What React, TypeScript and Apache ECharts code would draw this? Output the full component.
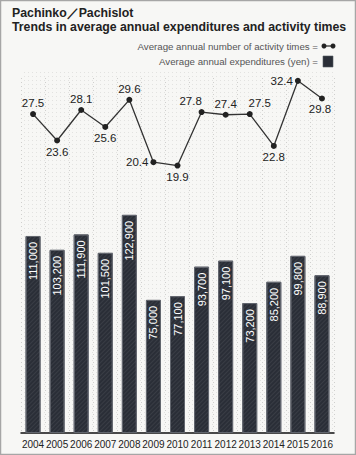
import React, { useEffect, useRef } from "react";
import * as echarts from "echarts";

const years = ["2004","2005","2006","2007","2008","2009","2010","2011","2012","2013","2014","2015","2016"];
const expenditures = [111000,103200,111900,101500,122900,75000,77100,93700,97100,73200,85200,99800,88900];
const activityTimes = [27.5,23.6,28.1,25.6,29.6,20.4,19.9,27.8,27.4,27.5,22.8,32.4,29.8];
const labelPlacement = ["top","bottom","top","bottom","top","left","bottom","top","top","top","bottom","left","bottom"];
const labelShiftX = [0,0,0,0,0,0,0,-11,0,10,0,0,-2];

const titleLine1 = "Pachinko\uFF0FPachislot";
const titleLine2 = "Trends in average annual expenditures and activity times";
const legendLine = "Average annual number of activity times =";
const legendBar = "Average annual expenditures (yen) =";

function makeDots(): string {
  const c = document.createElement("canvas");
  c.width = 4; c.height = 4;
  const ctx = c.getContext("2d");
  if (ctx) {
    ctx.fillStyle = "#f7f7f5";
    ctx.fillRect(0, 0, 4, 4);
    ctx.fillStyle = "#e2e2e0";
    ctx.fillRect(0, 0, 1, 1);
  }
  return c.toDataURL("image/png");
}

export default function App() {
  const ref = useRef<HTMLDivElement>(null);
  useEffect(() => {
    document.body.style.margin = "0";
    if (!ref.current) return;
    const chart = echarts.init(ref.current, null, { renderer: "svg" });
    const dots = makeDots();
    const labFont = "Liberation Sans";
    chart.setOption({
      animation: false,
      backgroundColor: "#f7f7f5",
      grid: [
        { left: 21, width: 313, top: 78, height: 355 },
        { left: 21, width: 313, top: 70, height: 230.5 },
      ],
      xAxis: [
        {
          type: "category", gridIndex: 0, data: years,
          axisLine: { lineStyle: { color: "#111", width: 1.5 } },
          axisTick: { show: false },
          axisLabel: { color: "#222", fontSize: 10, fontFamily: "Liberation Sans", margin: 6, interval: 0 },
          splitLine: { show: true, interval: 0, lineStyle: { color: "#cfcfcd", type: [1, 3] } },
        },
        { type: "category", gridIndex: 1, data: years, show: false },
      ],
      yAxis: [
        { type: "value", gridIndex: 0, min: 0, max: 200000, show: false, splitLine: { show: false } },
        { type: "value", gridIndex: 1, min: 0, max: 34, show: false, splitLine: { show: false } },
      ],
      graphic: [
        { type: "rect", z: -10, silent: true, shape: { x: 21, y: 70, width: 313, height: 363 }, style: { fill: { image: dots, repeat: "repeat" } } },
        { type: "rect", z: 100, silent: true, shape: { x: 0.5, y: 0.5, width: 355, height: 454 }, style: { fill: "none", stroke: "#a6a6a6", lineWidth: 1.5 } },
        { type: "text", x: 12, y: 13, style: { text: titleLine1, font: "bold 12.3px 'Liberation Sans'", fill: "#222", textVerticalAlign: "middle" } },
        { type: "text", x: 12, y: 27, style: { text: titleLine2, font: "bold 12.3px 'Liberation Sans'", fill: "#222", textVerticalAlign: "middle" } },
        { type: "text", x: 318, y: 46, style: { text: legendLine, font: "9.7px 'Liberation Sans'", fill: "#555", textAlign: "right", textVerticalAlign: "middle" } },
        { type: "text", x: 318, y: 61, style: { text: legendBar, font: "9.7px 'Liberation Sans'", fill: "#555", textAlign: "right", textVerticalAlign: "middle" } },
        { type: "line", shape: { x1: 324, y1: 46, x2: 333, y2: 46 }, style: { stroke: "#222", lineWidth: 1.2 } },
        { type: "circle", shape: { cx: 324, cy: 46, r: 2.5 }, style: { fill: "#222" } },
        { type: "circle", shape: { cx: 333, cy: 46, r: 2.5 }, style: { fill: "#222" } },
        { type: "rect", shape: { x: 323, y: 56, width: 10, height: 11 }, style: { fill: "#2a2e37", stroke: "#555a62", lineWidth: 0.6 } },
      ],
      series: [
        {
          type: "bar", xAxisIndex: 0, yAxisIndex: 0, data: expenditures, barWidth: 15,
          itemStyle: {
            color: "#2a2e37", borderColor: "#62666e", borderWidth: 1,
            decal: { symbol: "rect", symbolSize: 1, color: "rgba(255,255,255,0.07)", dashArrayX: [1, 0], dashArrayY: [1, 2], rotation: -Math.PI / 4 },
          },
          label: {
            show: true, position: "insideTop", rotate: 90, align: "right", verticalAlign: "middle", distance: 6,
            color: "#ffffff", fontSize: 11, fontFamily: labFont,
            formatter: (p: any) => Number(p.value).toLocaleString("en-US"),
          },
        },
        {
          type: "line", xAxisIndex: 1, yAxisIndex: 1,
          data: activityTimes.map((v, i) => ({
            value: v,
            label: { position: labelPlacement[i], offset: [labelShiftX[i], 0] },
          })),
          symbol: "circle", symbolSize: 6,
          lineStyle: { color: "#333", width: 1.3 },
          itemStyle: { color: "#222" },
          label: { show: true, distance: 2, color: "#222", fontSize: 11.5, fontFamily: labFont, formatter: (p: any) => Number(p.value).toFixed(1) },
        },
      ],
    });
    return () => chart.dispose();
  }, []);
  return <div ref={ref} style={{ width: 356, height: 455 }} />;
}
